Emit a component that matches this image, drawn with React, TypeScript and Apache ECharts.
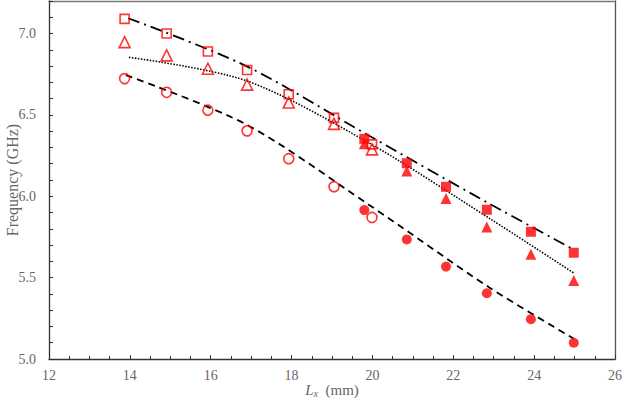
import React, { useEffect, useRef } from "react";
import * as echarts from "echarts";

const squaresOpen: [number, number][] = [
  [13.87, 7.09], [14.91, 7.0], [15.93, 6.89], [16.9, 6.776], [17.93, 6.627], [19.05, 6.482], [19.99, 6.319],
];
const squaresFilled: [number, number][] = [
  [19.8, 6.353], [20.85, 6.203], [21.82, 6.058], [22.83, 5.917], [23.92, 5.782], [24.98, 5.653],
];
const trianglesOpen: [number, number][] = [
  [13.87, 6.947], [14.91, 6.866], [15.93, 6.784], [16.9, 6.686], [17.93, 6.576], [19.05, 6.445], [19.99, 6.288],
];
const trianglesFilled: [number, number][] = [
  [19.8, 6.323], [20.85, 6.156], [21.82, 5.986], [22.83, 5.811], [23.92, 5.643], [24.98, 5.482],
];
const circlesOpen: [number, number][] = [
  [13.87, 6.723], [14.91, 6.639], [15.93, 6.529], [16.9, 6.402], [17.93, 6.231], [19.05, 6.059], [19.99, 5.87],
];
const circlesFilled: [number, number][] = [
  [19.8, 5.915], [20.85, 5.735], [21.82, 5.568], [22.83, 5.404], [23.92, 5.245], [24.98, 5.1],
];

const fitSquares: [number, number][] = [
  [13.96, 7.094], [16.88, 6.8], [19.93, 6.37], [22.89, 5.955], [25.0, 5.67],
];
const fitTriangles: [number, number][] = [
  [13.98, 6.854], [16.88, 6.71], [19.9, 6.33], [22.89, 5.865], [25.0, 5.525],
];
const fitCircles: [number, number][] = [
  [13.9, 6.745], [16.88, 6.441], [19.9, 5.95], [22.89, 5.44], [24.98, 5.125],
];

const xTicks = [12, 14, 16, 18, 20, 22, 24, 26];
const yTicks = [5.0, 5.5, 6.0, 6.5, 7.0];

const RED = "#ff0000";
const FONT = "Liberation Serif";
const LABEL = "#666666";

export default function App() {
  const ref = useRef<HTMLDivElement>(null);
  useEffect(() => {
    if (!ref.current) return;
    const chart = echarts.init(ref.current, undefined, { renderer: "svg" });
    const openStyle = { color: "transparent", borderColor: RED, borderWidth: 1.6 };
    const filledStyle = { color: RED };
    const scatter = (data: [number, number][], symbol: string, size: number, style: any) => ({
      type: "scatter",
      data,
      symbol,
      symbolSize: size,
      itemStyle: style,
      z: 5,
    });
    const line = (data: [number, number][], dash: any, width = 1.8) => ({
      type: "line",
      data,
      smooth: 0.3,
      showSymbol: false,
      symbol: "none",
      lineStyle: { color: "#000", width, type: dash },
      z: 3,
    });
    chart.setOption({
      animation: false,
      backgroundColor: "#fff",
      grid: { left: 49, right: 8, top: 1, bottom: 39, containLabel: false, outerBoundsMode: "none" },
      xAxis: [
        {
          type: "value",
          min: 12,
          max: 26,
          interval: 2,
          axisLine: { lineStyle: { color: "#333", width: 1.3 } },
          axisTick: { inside: true, length: 4, lineStyle: { color: "#333" } },
          minorTick: { show: true, splitNumber: 4, length: 3, lineStyle: { color: "#333" } },
          splitLine: { show: false },
          axisLabel: {
            color: LABEL,
            fontFamily: FONT,
            fontSize: 14,
            margin: 9,
            formatter: (v: number) => (xTicks.includes(v) ? String(v) : ""),
          },
          name: "{i|L}{s|x}{n|  (mm)}",
          nameLocation: "middle",
          nameGap: 23,
          nameMoveOverlap: false,
          nameTextStyle: {
            verticalAlign: "top",
            rich: {
              i: { fontFamily: FONT, fontStyle: "italic", fontSize: 15, color: LABEL },
              s: { fontFamily: FONT, fontStyle: "italic", fontSize: 10, color: LABEL, verticalAlign: "bottom", padding: [6, 0, 0, 0] },
              n: { fontFamily: FONT, fontSize: 15, color: LABEL },
            },
          },
        },
        {
          type: "value",
          position: "top",
          min: 12,
          max: 26,
          axisLine: { show: true, lineStyle: { color: "#777", width: 1.3 } },
          axisTick: { show: false },
          axisLabel: { show: false },
          splitLine: { show: false },
        },
      ],
      yAxis: [
        {
          type: "value",
          min: 5.0,
          max: 7.2,
          interval: 0.5,
          axisLine: { show: true, lineStyle: { color: "#333", width: 1.3 } },
          axisTick: { inside: true, length: 4, lineStyle: { color: "#333" } },
          minorTick: { show: true, splitNumber: 5, length: 4, lineStyle: { color: "#333" } },
          splitLine: { show: false },
          axisLabel: {
            color: LABEL,
            fontFamily: FONT,
            fontSize: 14,
            margin: 13,
            formatter: (v: number) => {
              const hit = yTicks.find((t) => Math.abs(t - v) < 1e-6);
              return hit !== undefined ? hit.toFixed(1) : "";
            },
          },
          name: "Frequency (GHz)",
          nameLocation: "middle",
          nameGap: 29,
          nameMoveOverlap: false,
          nameTextStyle: { color: LABEL, fontFamily: FONT, fontSize: 16 },
        },
        {
          type: "value",
          position: "right",
          min: 5.0,
          max: 7.2,
          axisLine: { show: true, lineStyle: { color: "#555", width: 1.3 } },
          axisTick: { show: false },
          axisLabel: { show: false },
          splitLine: { show: false },
        },
      ],
      series: [
        line(fitSquares, [12, 5, 2, 5], 1.8),
        line(fitTriangles, [1.5, 1.5], 1.6),
        line(fitCircles, [7, 5], 1.8),
        scatter(squaresOpen, "rect", 9, openStyle),
        scatter(squaresFilled, "rect", 10, filledStyle),
        scatter(trianglesOpen, "triangle", 11, openStyle),
        scatter(trianglesFilled, "triangle", 11, filledStyle),
        scatter(circlesOpen, "circle", 10, openStyle),
        scatter(circlesFilled, "circle", 10, filledStyle),
      ],
    });
    return () => chart.dispose();
  }, []);
  return (
    <div
      ref={ref}
      style={{ position: "fixed", left: 0, top: 0, width: 623, height: 398, background: "#fff" }}
    />
  );
}
